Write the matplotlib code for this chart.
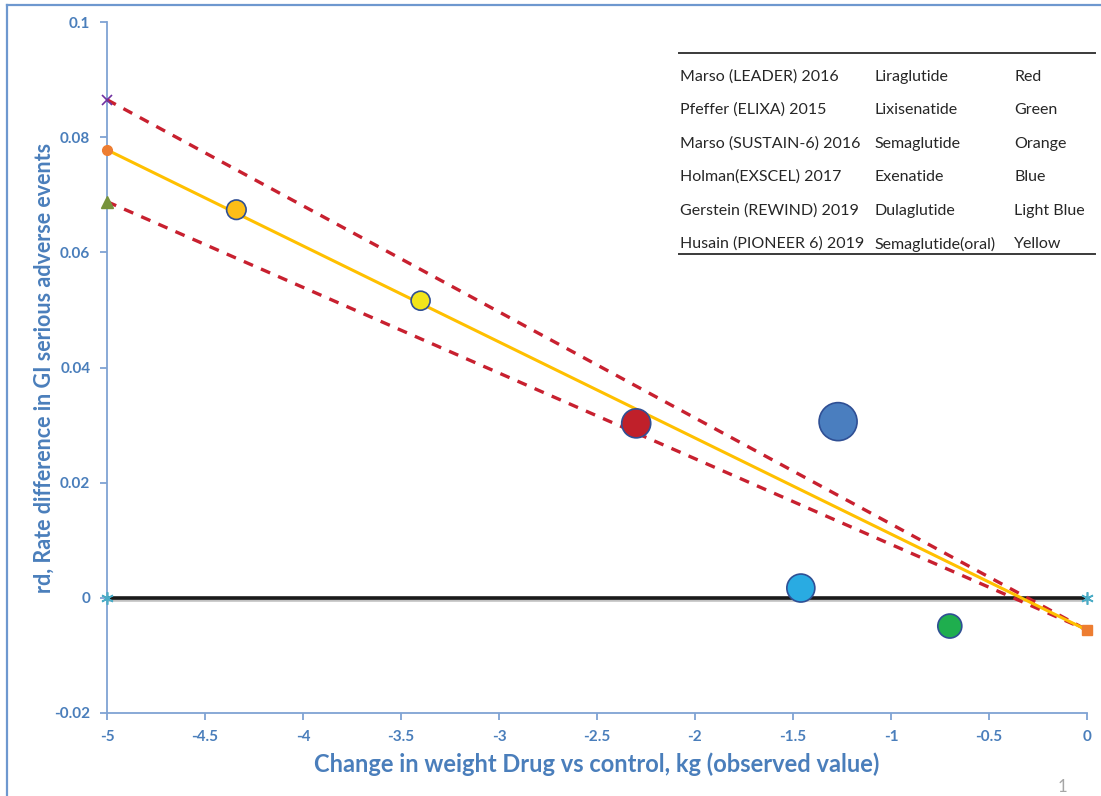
import numpy as np
import matplotlib
matplotlib.use('Agg')
import matplotlib.pyplot as plt
import matplotlib.patheffects as pe

plt.rcParams['font.family'] = ['Lato', 'DejaVu Sans']

# trials: weight change vs rate difference in GI serious adverse events
trials = ['Marso (LEADER) 2016', 'Pfeffer (ELIXA) 2015', 'Marso (SUSTAIN-6) 2016',
          'Holman(EXSCEL) 2017', 'Gerstein (REWIND) 2019', 'Husain (PIONEER 6) 2019']
drugs = ['Liraglutide', 'Lixisenatide', 'Semaglutide', 'Exenatide', 'Dulaglutide',
         'Semaglutide(oral)']
colour_names = ['Red', 'Green', 'Orange', 'Blue', 'Light Blue', 'Yellow']
weight_change = [-2.30, -0.70, -4.34, -1.27, -1.46, -3.40]
rate_diff = [0.0303, -0.0049, 0.0674, 0.0306, 0.0017, 0.0516]
bubble = [29, 24, 19.5, 38, 28, 19]   # bubble diameter

# regression fit and its bounds (start at -5 kg, end at 0 kg)
line_x = [-5, 0]
fit_y = [0.0778, -0.0056]
upper_y = [0.0865, -0.0056]
lower_y = [0.0688, -0.0056]

xticks = [-5, -4.5, -4, -3.5, -3, -2.5, -2, -1.5, -1, -0.5, 0]
yticks = [-0.02, 0, 0.02, 0.04, 0.06, 0.08, 0.1]

fills = ['#C0202A', '#1FAE4E', '#FDBE17', '#4A7EBF', '#29ABE2', '#F2E51A']
blue_txt = '#4A7EBB'
spine_c = '#7FA3D3'

fig = plt.figure(figsize=(11.01, 7.96), dpi=100)
ax = fig.add_axes([107 / 1101, 1 - 713 / 796, (1087 - 107) / 1101, (713 - 22) / 796])

# zero reference line with a soft shadow
ax.plot([-5, 0], [0, 0], color='#1a1a1a', lw=2.6, zorder=2,
        path_effects=[pe.SimpleLineShadow(offset=(0, -1.5), shadow_color='#999999', alpha=0.6),
                      pe.Normal()])
ax.plot([-5, 0], [0, 0], ls='none', marker=(6, 2, 0), ms=9, mew=1.2,
        color='#4BACC6', clip_on=False, zorder=5)

ax.plot(line_x, upper_y, color='#C8202F', lw=2.4, dashes=(3, 2.6), zorder=3)
ax.plot(line_x, lower_y, color='#C8202F', lw=2.4, dashes=(3, 2.6), zorder=3)
ax.plot(line_x, fit_y, color='#FFC000', lw=2.2, zorder=3)

# end markers of the series
ax.plot(line_x[0], upper_y[0], 'x', color='#7030A0', ms=7, mew=1.2, clip_on=False, zorder=5)
ax.plot(line_x[0], fit_y[0], 'o', color='#ED7D31', ms=7, clip_on=False, zorder=5)
ax.plot(line_x[0], lower_y[0], '^', color='#77933C', ms=8, clip_on=False, zorder=5)
ax.plot(line_x[1], fit_y[1], 's', color='#ED7D31', ms=7, clip_on=False, zorder=5)

sizes = [(d * 72 / 100) ** 2 for d in bubble]
ax.scatter(weight_change, rate_diff, s=sizes, c=fills, edgecolors='#2F4F94',
           linewidths=1.2, zorder=4)

ax.set_xlim(-5, 0)
ax.set_ylim(-0.02, 0.1)
ax.set_xticks(xticks)
ax.set_xticklabels(['%g' % t for t in xticks])
ax.set_yticks(yticks)
ax.set_yticklabels(['%g' % t for t in yticks])
for s in ['top', 'right']:
    ax.spines[s].set_visible(False)
for s in ['left', 'bottom']:
    ax.spines[s].set_color(spine_c)
    ax.spines[s].set_linewidth(1.3)
ax.tick_params(colors=spine_c, length=5, width=1.3, labelcolor=blue_txt,
               labelsize=11, pad=7)
for lab in ax.get_xticklabels() + ax.get_yticklabels():
    lab.set_fontweight('bold')

ax.set_xlabel('Change in weight Drug vs control, kg (observed value)',
              fontsize=17, fontweight='bold', color=blue_txt)
ax.xaxis.set_label_coords(0.5, -0.057)
ax.set_ylabel('rd, Rate difference in GI serious adverse events',
              fontsize=15.5, fontweight='bold', color=blue_txt)
ax.yaxis.set_label_coords(-0.053, 0.5)

# trial key table
def fx(px):
    return px / 1101

def fy(py):
    return 1 - py / 796

fig.add_artist(plt.Line2D([fx(679), fx(1095)], [fy(53), fy(53)], color='#3a3a3a', lw=1.4))
fig.add_artist(plt.Line2D([fx(679), fx(1095)], [fy(254), fy(254)], color='#3a3a3a', lw=1.4))
row_y = [77, 110, 144, 177, 211, 244]
for i in range(len(trials)):
    for x0, txt in zip([680, 874, 1014], [trials[i], drugs[i], colour_names[i]]):
        fig.text(fx(x0), fy(row_y[i]), txt, fontsize=11.5, color='#262626',
                 ha='left', va='center')

# slide frame and page number
fig.add_artist(plt.Line2D([fx(7), fx(7)], [fy(5), 0], color='#6E98CF', lw=1.6))
fig.add_artist(plt.Line2D([fx(7), 1], [fy(5), fy(5)], color='#6E98CF', lw=1.6))
fig.text(fx(1062), fy(787), '1', fontsize=12, color='#A6A6A6', ha='center', va='center')

fig.savefig('out.png', dpi=100)
